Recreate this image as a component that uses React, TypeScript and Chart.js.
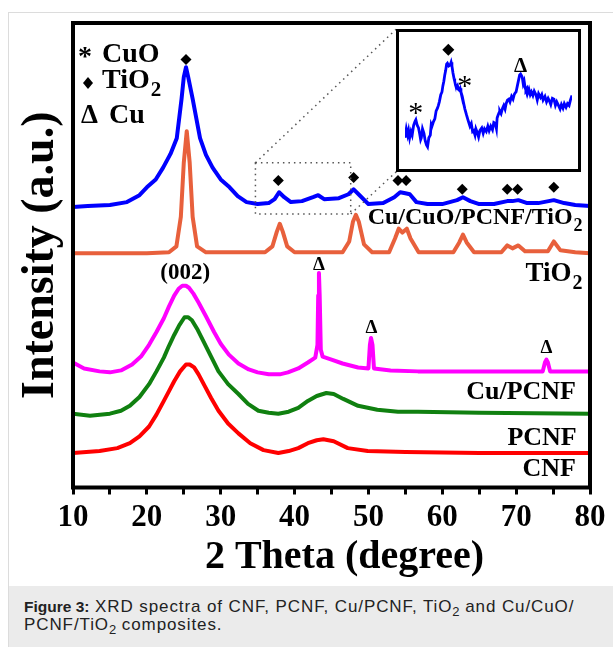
import React, { useEffect, useRef } from "react";
import { Chart, registerables } from "chart.js";

Chart.register(...registerables);

const SERIF = "'Liberation Serif', 'Times New Roman', serif";

// ---- axes ----
const X_MIN = 10;
const X_MAX = 80;
const X_STEP = 5;
const Y_MIN = 0;
const Y_MAX = 472;
const X_TITLE = "2 Theta (degree)";
const Y_TITLE = "Intensity (a.u.)";

// ---- series (2θ in degrees, intensity in arbitrary offset units) ----
const CCPT_X = [10, 12, 15, 17.3, 19, 20, 21.2, 22.2, 23.2, 24.05, 24.7, 25.0, 25.3, 25.6, 26.2, 27.2, 28.0, 28.9, 30.0, 31.2, 32.3, 33.5, 35, 36.5, 37.3, 37.9, 38.6, 39.5, 41, 42.5, 43.2, 44, 46, 47.3, 48.0, 48.8, 50, 52, 53.5, 54.3, 55.0, 55.6, 56.5, 58, 60, 62, 62.8, 63.8, 65, 67, 68.8, 69.5, 70.3, 71.5, 73, 75.1, 76.5, 78, 80];
const CCPT_Y = [285, 286, 287, 290, 297, 305, 313, 325, 339, 355, 395, 417, 427, 417, 395, 355, 338, 325, 313, 305, 296, 290, 288, 289, 293, 300, 295, 290, 291, 295, 297, 293, 294, 298, 303, 297, 288, 289, 295, 300, 299, 298, 290, 288, 288, 292, 295, 291, 288, 288, 291, 291, 292, 289, 289, 292, 289, 287, 286];

const TIO2_X = [10, 20, 23, 24.0, 24.6, 25.0, 25.4, 25.8, 26.2, 26.8, 28, 36, 37.0, 37.6, 38.0, 38.4, 39.0, 40, 46.5, 47.4, 47.9, 48.3, 48.7, 49.4, 50.5, 52.8, 53.6, 54.1, 54.6, 55.2, 55.7, 56.8, 61.5, 62.3, 62.8, 63.3, 64.3, 68, 68.8, 69.5, 70.3, 71.2, 74.3, 75.1, 76.0, 78, 80];
const TIO2_Y = [238, 238, 239, 245, 275, 330, 362, 330, 275, 245, 239, 239, 245, 260, 268, 260, 245, 239, 239, 250, 270, 277, 270, 247, 239, 239, 253, 263, 259, 263, 253, 239, 239, 249, 257, 249, 239, 239, 246, 243, 246, 240, 240, 250, 241, 239, 238];

const CUPCNF_X = [10, 11.5, 13.6, 15, 16.5, 18, 19.2, 20.3, 21.3, 22.3, 23.0, 23.7, 24.3, 24.8, 25.3, 25.7, 26.3, 27.0, 28.0, 29.1, 30.0, 31.1, 32.4, 33.8, 35.0, 36.5, 38.0, 39.1, 40.5, 41.8, 42.8, 43.1, 43.2, 43.3, 43.4, 43.55, 43.8, 45.0, 46.5, 48.6, 50.0, 50.2, 50.35, 50.55, 50.75, 53, 56.7, 65, 73.6, 73.9, 74.1, 74.3, 74.6, 80];
const CUPCNF_Y = [127, 121, 118, 117, 119, 125, 133, 145, 158, 172, 184, 195, 202, 205, 205, 203, 197, 188, 174, 158, 146, 135, 126, 120, 117, 115, 115, 117, 121, 127, 132, 145, 195, 218, 195, 140, 133, 130, 126, 122, 121, 145, 152, 145, 121, 119, 118, 118, 118, 127, 130, 127, 118, 118];

const PCNF_X = [10, 12.3, 15, 16.5, 17.7, 19.0, 20.3, 21.3, 22.3, 23.0, 23.7, 24.4, 25.1, 25.6, 26.1, 26.9, 27.7, 28.7, 29.7, 31.0, 32.4, 33.7, 35.1, 36.5, 37.8, 39.2, 40.5, 41.8, 43.0, 44.3, 45.3, 46.6, 48.6, 51.2, 54, 56.7, 65, 80];
const PCNF_Y = [75, 73, 75, 78, 83, 92, 105, 118, 132, 144, 155, 165, 173, 173, 170, 160, 148, 133, 118, 105, 95, 85, 78, 76, 75, 77, 81, 88, 93, 96, 95, 90, 83, 79, 77, 77, 76, 75];

const CNF_X = [10, 13.6, 16, 17.7, 19.0, 20.3, 21.3, 22.3, 23.0, 23.7, 24.5, 25.3, 25.8, 26.4, 27.0, 27.7, 28.7, 29.7, 31.0, 32.4, 34.0, 35.8, 37.8, 39.2, 40.5, 41.8, 43.0, 43.9, 45.3, 47.2, 49.9, 55, 65, 80];
const CNF_Y = [35, 37, 40, 45, 52, 62, 74, 88, 98, 108, 118, 125, 125, 122, 115, 105, 91, 78, 65, 55, 45, 38, 35, 37, 40, 45, 48, 49, 47, 40, 37, 36, 35, 35];

const SERIES_COLORS = ["#0000ff", "#e8603c", "#ff00ff", "#108010", "#ff0000"];

// ---- peak markers ----
const TIO2_MARK_X = [25.3, 37.8, 48.0, 54.0, 55.1, 62.7, 68.8, 70.2, 75.1];
const TIO2_MARK_Y = [435, 312, 315, 312, 312, 303, 303, 303, 305];
const CU_MARK_X = [43.3, 50.4, 74.1];
const CU_MARK_Y = [227, 163, 143];

// ---- curve labels ----
const LABEL_TEXT = [["Cu/CuO/PCNF/TiO", "2"], ["TiO", "2"], ["Cu/PCNF"], ["PCNF"], ["CNF"]];
const LABEL_X = [79.0, 79.0, 78.1, 78.2, 78.1];
const LABEL_Y = [268, 210, 90, 43, 12];
const LABEL_SIZE = [24, 27, 26, 26, 26];
const PEAK_LABEL = "(002)";
const PEAK_LABEL_X = 25.2;
const PEAK_LABEL_Y = 212;

// ---- legend ----
const LEGEND_NAMES = [["CuO"], ["TiO", "2"], ["Cu"]];

// ---- zoom region and inset ----
const ZOOM_X = [34.7, 47.6];
const ZOOM_Y = [278, 330];
const INSET_BOX_X = [53.8, 78.9];
const INSET_BOX_Y = [321, 466];

const INSET_X_RANGE = [34.6, 47.2];
const INSET_Y_RANGE = [2, 141];
const INSET_X = [34.6, 34.7, 34.8, 34.87, 34.95, 35.05, 35.14, 35.25, 35.35, 35.42, 35.52, 35.62, 35.7, 35.78, 35.83, 35.92, 36.03, 36.12, 36.22, 36.3, 36.4, 36.51, 36.58, 36.64, 36.75, 36.85, 36.95, 37.05, 37.12, 37.19, 37.3, 37.39, 37.46, 37.53, 37.6, 37.67, 37.74, 37.8, 37.9, 38.01, 38.08, 38.14, 38.22, 38.3, 38.35, 38.42, 38.48, 38.56, 38.62, 38.69, 38.76, 38.82, 38.92, 39.03, 39.12, 39.23, 39.35, 39.5, 39.6, 39.7, 39.78, 39.88, 39.95, 40.05, 40.15, 40.25, 40.39, 40.5, 40.6, 40.73, 40.85, 40.95, 41.07, 41.2, 41.3, 41.41, 41.5, 41.55, 41.62, 41.7, 41.75, 41.85, 41.96, 42.05, 42.15, 42.23, 42.33, 42.43, 42.52, 42.64, 42.75, 42.84, 42.92, 42.98, 43.08, 43.18, 43.25, 43.32, 43.4, 43.45, 43.52, 43.59, 43.66, 43.72, 43.8, 43.86, 43.95, 44.05, 44.14, 44.25, 44.35, 44.48, 44.58, 44.68, 44.82, 44.92, 45.02, 45.16, 45.28, 45.4, 45.5, 45.6, 45.72, 45.84, 45.95, 46.05, 46.18, 46.3, 46.4, 46.52, 46.62, 46.75, 46.86, 46.98, 47.08, 47.2];
const INSET_Y = [30, 40, 33, 38, 30, 37, 33, 44, 48, 50, 44, 41, 35, 28, 30, 40, 35, 27, 22, 20, 30, 33, 45, 43, 48, 51, 60, 63, 66, 70, 78, 81, 88, 93, 100, 105, 112, 113, 110, 111, 114, 110, 102, 96, 93, 88, 86, 88, 84, 83, 85, 81, 76, 68, 62, 56, 50, 43, 46, 37, 38, 33, 40, 36, 31, 38, 41, 35, 40, 37, 43, 38, 43, 39, 47, 46, 40, 52, 55, 58, 60, 57, 63, 66, 62, 68, 72, 73, 70, 76, 73, 78, 80, 81, 88, 95, 100, 101, 99, 97, 90, 93, 86, 83, 85, 80, 84, 78, 81, 77, 82, 78, 72, 79, 75, 78, 72, 76, 70, 74, 71, 67, 74, 73, 66, 70, 66, 62, 67, 63, 68, 64, 68, 66, 72, 77];
const INSET_TIO2_X = [37.87];
const INSET_TIO2_Y = [128];
const INSET_CUO_X = [35.42, 39.1];
const INSET_CUO_Y = [64, 94];
const INSET_CU_X = [43.32];
const INSET_CU_Y = [111];

// ---- caption ----
const CAPTION_LABEL = "Figure 3:";

const toPts = (xs: number[], ys: number[]) => xs.map((x, i) => ({ x, y: ys[i] }));

function drawSubText(ctx: CanvasRenderingContext2D, parts: string[], x: number, yBase: number, size: number, align: "left" | "right") {
  const subSize = Math.round(size * 0.75);
  ctx.font = `bold ${size}px ${SERIF}`;
  const w1 = ctx.measureText(parts[0]).width;
  let w2 = 0;
  if (parts[1]) {
    ctx.font = `bold ${subSize}px ${SERIF}`;
    w2 = ctx.measureText(parts[1]).width + 1;
  }
  const start = align === "right" ? x - w1 - w2 : x;
  ctx.textAlign = "left";
  ctx.textBaseline = "alphabetic";
  ctx.font = `bold ${size}px ${SERIF}`;
  ctx.fillText(parts[0], start, yBase);
  if (parts[1]) {
    ctx.font = `bold ${subSize}px ${SERIF}`;
    ctx.fillText(parts[1], start + w1 + 1, yBase + size * 0.3);
  }
}

const mainDecor = {
  id: "mainDecor",
  beforeDatasetsDraw(chart: any) {
    const { ctx } = chart;
    const x = chart.scales.x;
    const y = chart.scales.y;
    ctx.save();
    ctx.fillStyle = "#000";
    LABEL_TEXT.forEach((parts, i) => {
      drawSubText(ctx, parts, x.getPixelForValue(LABEL_X[i]), y.getPixelForValue(LABEL_Y[i]), LABEL_SIZE[i], "right");
    });
    ctx.font = `bold 23px ${SERIF}`;
    ctx.textAlign = "center";
    ctx.textBaseline = "alphabetic";
    ctx.fillText(PEAK_LABEL, x.getPixelForValue(PEAK_LABEL_X), y.getPixelForValue(PEAK_LABEL_Y));
    ctx.restore();
  },
  afterDatasetsDraw(chart: any) {
    const { ctx, chartArea } = chart;
    const x = chart.scales.x;
    const y = chart.scales.y;
    ctx.save();
    ctx.fillStyle = "#000";
    // Cu peak markers
    ctx.font = `bold 19px ${SERIF}`;
    ctx.textAlign = "center";
    ctx.textBaseline = "alphabetic";
    CU_MARK_X.forEach((v, i) => {
      ctx.fillText("Δ", x.getPixelForValue(v), y.getPixelForValue(CU_MARK_Y[i]) + 19 * 0.33);
    });
    // dotted zoom box and connectors
    ctx.strokeStyle = "#555";
    ctx.lineWidth = 1.5;
    ctx.setLineDash([1.5, 4]);
    const zx0 = x.getPixelForValue(ZOOM_X[0]);
    const zx1 = x.getPixelForValue(ZOOM_X[1]);
    const zy0 = y.getPixelForValue(ZOOM_Y[0]);
    const zy1 = y.getPixelForValue(ZOOM_Y[1]);
    ctx.strokeRect(zx0, zy1, zx1 - zx0, zy0 - zy1);
    const ix0 = x.getPixelForValue(INSET_BOX_X[0]);
    ctx.beginPath();
    ctx.moveTo(zx0, zy1);
    ctx.lineTo(ix0, y.getPixelForValue(INSET_BOX_Y[1]));
    ctx.moveTo(zx1, zy0);
    ctx.lineTo(ix0, y.getPixelForValue(INSET_BOX_Y[0]));
    ctx.stroke();
    ctx.setLineDash([]);
    // frame
    ctx.strokeStyle = "#000";
    ctx.lineWidth = 4;
    ctx.strokeRect(chartArea.left, chartArea.top, chartArea.right - chartArea.left, chartArea.bottom - chartArea.top);
    // legend
    const L = chartArea.left;
    const T = chartArea.top;
    ctx.font = `bold 28px ${SERIF}`;
    ctx.textAlign = "left";
    ctx.fillText("*", L + 5, T + 42);
    drawSubText(ctx, LEGEND_NAMES[0], L + 29, T + 39, 28, "left");
    ctx.beginPath();
    ctx.moveTo(L + 15, T + 54);
    ctx.lineTo(L + 20, T + 60);
    ctx.lineTo(L + 15, T + 66);
    ctx.lineTo(L + 10, T + 60);
    ctx.closePath();
    ctx.fill();
    drawSubText(ctx, LEGEND_NAMES[1], L + 29, T + 65, 28, "left");
    ctx.font = `bold 27px ${SERIF}`;
    ctx.fillText("Δ", L + 8, T + 100);
    drawSubText(ctx, LEGEND_NAMES[2], L + 36, T + 100, 28, "left");
    // x-axis title (centred slightly right of the plot centre, as in the figure)
    ctx.font = `bold 40px ${SERIF}`;
    ctx.textAlign = "center";
    ctx.textBaseline = "alphabetic";
    ctx.fillText(X_TITLE, (chartArea.left + chartArea.right) / 2 + 13, chartArea.bottom + 80);
    ctx.restore();
  },
};

const insetDecor = {
  id: "insetDecor",
  afterDatasetsDraw(chart: any) {
    const { ctx } = chart;
    const x = chart.scales.x;
    const y = chart.scales.y;
    ctx.save();
    ctx.fillStyle = "#000";
    ctx.textAlign = "center";
    ctx.textBaseline = "alphabetic";
    ctx.font = `30px ${SERIF}`;
    INSET_CUO_X.forEach((v, i) => {
      ctx.fillText("*", x.getPixelForValue(v), y.getPixelForValue(INSET_CUO_Y[i]) + 30 * 0.49);
    });
    ctx.font = `bold 21px ${SERIF}`;
    INSET_CU_X.forEach((v, i) => {
      ctx.fillText("Δ", x.getPixelForValue(v), y.getPixelForValue(INSET_CU_Y[i]) + 21 * 0.33);
    });
    ctx.restore();
  },
};

export default function App() {
  const canvasRef = useRef<HTMLCanvasElement | null>(null);
  const insetBoxRef = useRef<HTMLDivElement | null>(null);
  const insetCanvasRef = useRef<HTMLCanvasElement | null>(null);

  useEffect(() => {
    const lineDs = (label: string, xs: number[], ys: number[], color: string) => ({
      label,
      data: toPts(xs, ys),
      borderColor: color,
      backgroundColor: color,
      borderWidth: 4,
      pointRadius: 0,
      tension: 0,
      fill: false,
      borderJoinStyle: "round" as const,
      borderCapStyle: "round" as const,
    });
    const main = new Chart(canvasRef.current as HTMLCanvasElement, {
      type: "line",
      data: {
        datasets: [
          {
            label: "TiO2 peaks",
            type: "scatter",
            data: toPts(TIO2_MARK_X, TIO2_MARK_Y),
            pointStyle: "rectRot",
            pointRadius: 5.5,
            backgroundColor: "#000",
            borderColor: "#000",
            borderWidth: 0,
            showLine: false,
          } as any,
          lineDs("Cu/CuO/PCNF/TiO2", CCPT_X, CCPT_Y, SERIES_COLORS[0]),
          lineDs("TiO2", TIO2_X, TIO2_Y, SERIES_COLORS[1]),
          lineDs("Cu/PCNF", CUPCNF_X, CUPCNF_Y, SERIES_COLORS[2]),
          lineDs("PCNF", PCNF_X, PCNF_Y, SERIES_COLORS[3]),
          lineDs("CNF", CNF_X, CNF_Y, SERIES_COLORS[4]),
        ],
      },
      options: {
        animation: false,
        responsive: false,
        maintainAspectRatio: false,
        layout: { padding: { left: 4, right: 22, top: 10, bottom: 45.5 } },
        plugins: { legend: { display: false }, tooltip: { enabled: false } },
        scales: {
          x: {
            type: "linear",
            min: X_MIN,
            max: X_MAX,
            ticks: {
              stepSize: X_STEP,
              autoSkip: false,
              maxRotation: 0,
              padding: 7.5,
              color: "#000",
              font: { family: SERIF, size: 31, weight: "bold", lineHeight: 1 },
              callback: (v: any) => (Number(v) % 10 === 0 ? String(v) : ""),
            },
            grid: { display: true, drawOnChartArea: false, drawTicks: true, tickLength: 7, tickWidth: 3, tickColor: "#000" },
            border: { display: false },
            title: { display: false, text: X_TITLE },
          },
          y: {
            min: Y_MIN,
            max: Y_MAX,
            ticks: { display: false },
            grid: { display: false, drawTicks: false },
            border: { display: false },
            title: {
              display: true,
              text: Y_TITLE,
              color: "#000",
              font: { family: SERIF, size: 46, weight: "bold", lineHeight: 1 },
              padding: { top: 5, bottom: 9 },
            },
          },
        },
      } as any,
      plugins: [mainDecor],
    });

    const sx = main.scales.x;
    const sy = main.scales.y;
    const l = sx.getPixelForValue(INSET_BOX_X[0]);
    const r = sx.getPixelForValue(INSET_BOX_X[1]);
    const t = sy.getPixelForValue(INSET_BOX_Y[1]);
    const b = sy.getPixelForValue(INSET_BOX_Y[0]);
    const box = insetBoxRef.current as HTMLDivElement;
    box.style.left = `${Math.round(l)}px`;
    box.style.top = `${Math.round(t)}px`;
    box.style.width = `${Math.round(r - l)}px`;
    box.style.height = `${Math.round(b - t)}px`;
    const ic = insetCanvasRef.current as HTMLCanvasElement;
    ic.width = Math.round(r - l) - 6;
    ic.height = Math.round(b - t) - 6;

    const inset = new Chart(ic, {
      type: "line",
      data: {
        datasets: [
          {
            label: "TiO2 peak",
            type: "scatter",
            data: toPts(INSET_TIO2_X, INSET_TIO2_Y),
            pointStyle: "rectRot",
            pointRadius: 6,
            backgroundColor: "#000",
            borderColor: "#000",
            borderWidth: 0,
            showLine: false,
          } as any,
          {
            label: "zoom",
            data: toPts(INSET_X, INSET_Y),
            borderColor: "#0000ff",
            borderWidth: 2.8,
            pointRadius: 0,
            tension: 0,
            fill: false,
          },
        ],
      },
      options: {
        animation: false,
        responsive: false,
        maintainAspectRatio: false,
        layout: { padding: 0 },
        plugins: { legend: { display: false }, tooltip: { enabled: false } },
        scales: {
          x: { type: "linear", display: false, min: INSET_X_RANGE[0], max: INSET_X_RANGE[1] },
          y: { display: false, min: INSET_Y_RANGE[0], max: INSET_Y_RANGE[1] },
        },
      } as any,
      plugins: [insetDecor],
    });

    return () => {
      inset.destroy();
      main.destroy();
    };
  }, []);

  const subStyle = { fontSize: 13, lineHeight: 0, letterSpacing: 0 } as React.CSSProperties;

  return (
    <div
      style={{
        position: "absolute",
        left: 8,
        top: 12,
        width: 605,
        height: 635,
        borderLeft: "1px solid #dcdcdc",
        borderTop: "1px solid #dcdcdc",
        background: "#fff",
        overflow: "hidden",
        boxSizing: "border-box",
      }}
    >
      <div style={{ position: "absolute", left: 0, top: 0, width: 604, height: 573 }}>
        <canvas ref={canvasRef} width={604} height={573} style={{ position: "absolute", left: 0, top: 0 }} />
        <div
          ref={insetBoxRef}
          style={{ position: "absolute", boxSizing: "border-box", border: "3px solid #000", background: "#fff" }}
        >
          <canvas ref={insetCanvasRef} style={{ display: "block" }} />
        </div>
      </div>
      <div
        style={{
          position: "absolute",
          left: 0,
          top: 573,
          width: 604,
          height: 62,
          background: "#ebebeb",
          boxSizing: "border-box",
          padding: "12px 0 0 15px",
          fontFamily: "'Liberation Sans', Arial, sans-serif",
          fontSize: 17,
          lineHeight: "18px",
          color: "#222",
          letterSpacing: "0.9px",
          whiteSpace: "nowrap",
        }}
      >
        <b style={{ fontSize: 15.5, letterSpacing: 0 }}>{CAPTION_LABEL}</b> XRD spectra of CNF, PCNF, Cu/PCNF, TiO
        <sub style={subStyle}>2</sub> and Cu/CuO/
        <br />
        PCNF/TiO<sub style={subStyle}>2</sub> composites.
      </div>
    </div>
  );
}
